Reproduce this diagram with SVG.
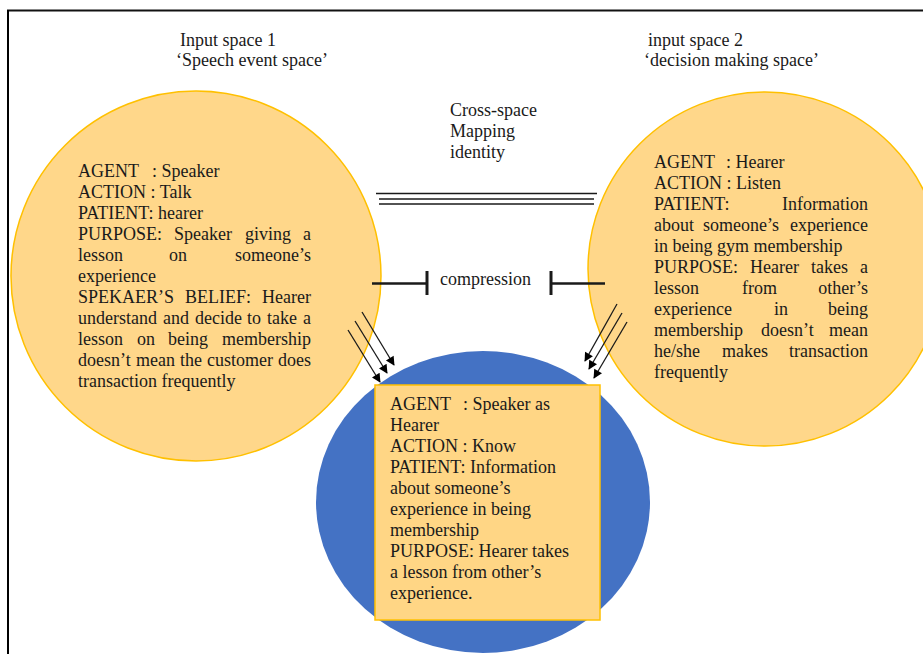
<svg xmlns="http://www.w3.org/2000/svg" width="923" height="654" viewBox="0 0 923 654">
<style>
.t{font-family:"Liberation Serif","Times New Roman",serif;font-size:18px;fill:#1a1a1a}
.e{text-anchor:end}
.space{fill:#FFD78A;stroke:#FFC000;stroke-width:1.5}
.arr{stroke:#1a1a1a;stroke-width:1.3;fill:none;marker-end:url(#ah)}
.ln{stroke:#1a1a1a;fill:none}
</style>
<defs>
<marker id="ah" viewBox="0 0 10 10" refX="9" refY="5" markerWidth="11" markerHeight="9" markerUnits="userSpaceOnUse" orient="auto">
<path d="M0,0 L10,5 L0,10 z" fill="#000"/>
</marker>
</defs>
<rect width="923" height="654" fill="#fff"/>
<g id="frame">
<line x1="7" y1="10.5" x2="923" y2="10.5" stroke="#111" stroke-width="2"/>
<line x1="8" y1="10" x2="8" y2="654" stroke="#000" stroke-width="2"/>
</g>
<g id="labels">
<text class="t" x="180" y="46">Input space 1</text>
<text class="t" x="176" y="66">‘Speech event space’</text>
<text class="t" x="648" y="46">input space 2</text>
<text class="t" x="644" y="66">‘decision making space’</text>
<text class="t" x="450" y="116">Cross-space</text>
<text class="t" x="450" y="137">Mapping</text>
<text class="t" x="450" y="158">identity</text>
</g>
<g id="input1">
<circle class="space" cx="196" cy="276" r="185"/>
<text class="t" x="78" y="177">AGENT</text><text class="t" x="152" y="177">: Speaker</text>
<text class="t" x="78" y="198">ACTION : Talk</text>
<text class="t" x="78" y="219">PATIENT: hearer</text>
<text class="t" x="78" y="240">PURPOSE:</text><text class="t" x="174" y="240">Speaker</text><text class="t" x="245" y="240">giving</text><text class="t e" x="311" y="240">a</text>
<text class="t" x="78" y="261">lesson</text><text class="t" x="169" y="261">on</text><text class="t e" x="311" y="261">someone’s</text>
<text class="t" x="78" y="282">experience</text>
<text class="t" x="78" y="303">SPEKAER’S</text><text class="t" x="185" y="303">BELIEF:</text><text class="t e" x="311" y="303">Hearer</text>
<text class="t" x="78" y="324">understand</text><text class="t" x="163" y="324">and</text><text class="t" x="195" y="324">decide</text><text class="t" x="247" y="324">to</text><text class="t" x="267" y="324">take</text><text class="t e" x="311" y="324">a</text>
<text class="t" x="78" y="345">lesson</text><text class="t" x="137" y="345">on</text><text class="t" x="168" y="345">being</text><text class="t e" x="311" y="345">membership</text>
<text class="t" x="78" y="366">doesn’t</text><text class="t" x="136" y="366">mean</text><text class="t" x="180" y="366">the</text><text class="t" x="207" y="366">customer</text><text class="t e" x="311" y="366">does</text>
<text class="t" x="78" y="387">transaction frequently</text>
</g>
<g id="input2">
<circle class="space" cx="765" cy="269" r="177"/>
<text class="t" x="654" y="168">AGENT</text><text class="t" x="726" y="168">: Hearer</text>
<text class="t" x="654" y="189">ACTION : Listen</text>
<text class="t" x="654" y="210">PATIENT:</text><text class="t e" x="868" y="210">Information</text>
<text class="t" x="654" y="231">about</text><text class="t" x="703" y="231">someone’s</text><text class="t e" x="868" y="231">experience</text>
<text class="t" x="654" y="252">in being gym membership</text>
<text class="t" x="654" y="273">PURPOSE:</text><text class="t" x="750" y="273">Hearer</text><text class="t" x="811" y="273">takes</text><text class="t e" x="868" y="273">a</text>
<text class="t" x="654" y="294">lesson</text><text class="t" x="742" y="294">from</text><text class="t e" x="868" y="294">other’s</text>
<text class="t" x="654" y="315">experience</text><text class="t" x="774" y="315">in</text><text class="t e" x="868" y="315">being</text>
<text class="t" x="654" y="336">membership</text><text class="t" x="761" y="336">doesn’t</text><text class="t e" x="868" y="336">mean</text>
<text class="t" x="654" y="357">he/she</text><text class="t" x="722" y="357">makes</text><text class="t e" x="868" y="357">transaction</text>
<text class="t" x="654" y="378">frequently</text>
</g>
<g id="blend">
<ellipse cx="483" cy="502" rx="167" ry="151" fill="#4472C4"/>
<rect x="375" y="385" width="225" height="235" fill="#FFD685" stroke="#FFC000" stroke-width="1.5"/>
<text class="t" x="390" y="410">AGENT</text><text class="t" x="463" y="410">: Speaker as</text>
<text class="t" x="390" y="431">Hearer</text>
<text class="t" x="390" y="452">ACTION : Know</text>
<text class="t" x="390" y="473">PATIENT: Information</text>
<text class="t" x="390" y="494">about someone’s</text>
<text class="t" x="390" y="515">experience in being</text>
<text class="t" x="390" y="536">membership</text>
<text class="t" x="390" y="557">PURPOSE: Hearer takes</text>
<text class="t" x="390" y="578">a lesson from other’s</text>
<text class="t" x="390" y="599">experience.</text>
</g>
<g id="connectors">
<line class="ln" x1="376" y1="193.5" x2="597" y2="193.5" stroke-width="1.6"/>
<line class="ln" x1="379" y1="199" x2="594" y2="199" stroke-width="1.6"/>
<line class="ln" x1="379" y1="204" x2="594" y2="204" stroke-width="1.6"/>
<line class="ln" x1="372" y1="283.5" x2="427" y2="283.5" stroke-width="2.5"/>
<line class="ln" x1="427" y1="271" x2="427" y2="295" stroke-width="3"/>
<line class="ln" x1="551" y1="283.5" x2="605" y2="283.5" stroke-width="2.5"/>
<line class="ln" x1="551" y1="271" x2="551" y2="295" stroke-width="3"/>
<text class="t" x="440" y="285">compression</text>
<line class="arr" x1="362" y1="312" x2="394" y2="365"/>
<line class="arr" x1="355" y1="321" x2="387" y2="373"/>
<line class="arr" x1="348" y1="330" x2="380" y2="382"/>
<line class="arr" x1="617" y1="304" x2="585" y2="361"/>
<line class="arr" x1="622" y1="313" x2="589" y2="369"/>
<line class="arr" x1="627" y1="322" x2="594" y2="378"/>
</g>
</svg>
